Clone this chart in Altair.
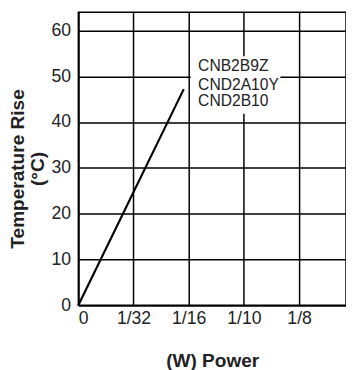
import altair as alt
import pandas as pd

# Data
power_pos = [0, 1.91]          # position on the ordinal power axis (0, 1/32, 1/16, 1/10, 1/8 -> 0..4)
temp_rise = [0, 47.2]
tick_pos = [0, 1, 2, 3, 4]
tick_labels = ["0", "1/32", "1/16", "1/10", "1/8"]
y_ticks = [0, 10, 20, 30, 40, 50, 60]
label_lines = ["CNB2B9Z", "CND2A10Y", "CND2B10"]
label_y = [52.3, 48.0, 44.5]
label_x = 2.17
box = {"x": 2.035, "x2": 3.66, "y": 41.8, "y2": 54.4}

line_df = pd.DataFrame({"p": power_pos, "t": temp_rise})
lab_df = pd.DataFrame({"p": [label_x] * 3, "t": label_y, "txt": label_lines})
box_df = pd.DataFrame([box])

expr = "{" + ",".join(f"'{p}':'{l}'" for p, l in zip(tick_pos, tick_labels)) + "}"

xscale = alt.Scale(domain=[0, 4.85], nice=False, zero=False)
yscale = alt.Scale(domain=[0, 64], nice=False)

xaxis = alt.Axis(values=tick_pos, labelExpr=f"{expr}[datum.value + '']", title="(W) Power",
                 grid=True, ticks=False, labelPadding=5, titlePadding=25)
yaxis = alt.Axis(values=y_ticks, title=["Temperature Rise", "(°C)"], grid=True, ticks=False,
                 labelPadding=8, titlePadding=4, titleY=160, titleLineHeight=20)

line = alt.Chart(line_df).mark_line(color="black", strokeWidth=2.2).encode(
    x=alt.X("p:Q", scale=xscale, axis=xaxis),
    y=alt.Y("t:Q", scale=yscale, axis=yaxis),
)

rect = alt.Chart(box_df).mark_rect(color="white").encode(
    x=alt.X("x:Q", scale=xscale), x2="x2:Q",
    y=alt.Y("y:Q", scale=yscale), y2="y2:Q",
)

text = alt.Chart(lab_df).mark_text(align="left", baseline="middle", fontSize=16,
                                   font="Liberation Sans", color="#222").encode(
    x=alt.X("p:Q", scale=xscale), y=alt.Y("t:Q", scale=yscale), text="txt:N"
)

chart = alt.layer(line, rect, text).properties(
    width=274, height=300,
    autosize=alt.AutoSizeParams(type="none"),
    padding={"left": 72, "top": 0, "right": 0, "bottom": 62},
).configure_view(stroke="black", strokeWidth=1.5).configure_axis(
    gridColor="black", gridWidth=1.5, gridOpacity=1,
    domainColor="black", domainWidth=1.5,
    labelFont="Liberation Sans", labelFontSize=18, labelColor="#222",
    titleFont="Liberation Sans", titleFontSize=19.5, titleFontWeight="bold", titleColor="#222",
)

chart.save("out.html", embed_options={"renderer": "svg", "actions": False})
